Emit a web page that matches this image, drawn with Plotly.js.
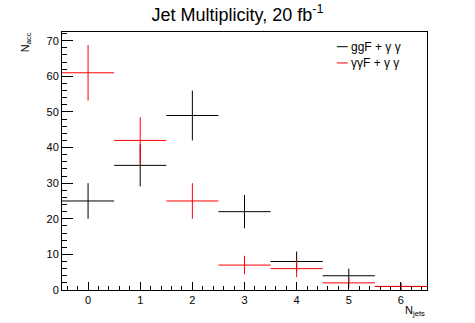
<!DOCTYPE html>
<html>
<head>
<meta charset="utf-8">
<script src="https://cdn.plot.ly/plotly-3.0.1.min.js"></script>
<style>html,body{margin:0;padding:0;background:#fff;}#chart{width:475px;height:323px;}</style>
</head>
<body>
<div id="chart"></div>
<script>
// Data
const nJets = [0, 1, 2, 3, 4, 5, 6];
const ggfCounts = [25, 35, 49, 22, 8, 4, 1];
const ggfErrors = [5, 5.9, 7, 4.7, 2.8, 2, 1];
const yyfCounts = [61, 42, 25, 7, 6, 2, 1];
const yyfErrors = [7.8, 6.5, 5, 2.6, 2.4, 1.4, 1];
const binHalfWidth = 0.5;
const seriesNames = ['ggF + \u03b3 \u03b3', '\u03b3\u03b3F + \u03b3 \u03b3'];
const seriesColors = ['#000000', '#ff0000'];

function histTrace(counts, errors, name, color) {
  return {
    type: 'scatter', mode: 'markers', x: nJets, y: counts, name: name,
    marker: {size: 2, color: 'rgba(0,0,0,0)'},
    error_x: {type: 'constant', value: binHalfWidth, width: 0, thickness: 1, color: color},
    error_y: {type: 'data', array: errors, visible: true, width: 0, thickness: 1, color: color},
    showlegend: false, hoverinfo: 'skip'
  };
}

const traces = [
  histTrace(ggfCounts, ggfErrors, seriesNames[0], seriesColors[0]),
  histTrace(yyfCounts, yyfErrors, seriesNames[1], seriesColors[1])
];

const font = {family: '"Liberation Sans", Arial, Helvetica, sans-serif', color: '#000'};

const layout = {
  width: 475, height: 323,
  margin: {l: 62, r: 48, t: 32, b: 33, pad: 0},
  paper_bgcolor: '#fff', plot_bgcolor: '#fff',
  font: Object.assign({size: 11}, font),
  title: {text: 'Jet Multiplicity, 20 fb<sup>-1</sup>', x: 0.5, xanchor: 'center', y: 0.955, yanchor: 'middle',
          font: Object.assign({size: 18}, font)},
  xaxis: {
    range: [-0.5, 6.5], tickmode: 'linear', tick0: 0, dtick: 1,
    ticks: 'inside', ticklen: 8, tickwidth: 1, tickcolor: '#000',
    minor: {tickmode: 'linear', tick0: 0, dtick: 0.2, ticks: 'inside', ticklen: 4, tickcolor: '#000', tickwidth: 1, showgrid: false},
    showline: true, linecolor: '#000', linewidth: 1, mirror: true,
    showgrid: false, zeroline: false, tickfont: Object.assign({size: 11}, font)
  },
  yaxis: {
    range: [0, 72.45], tickmode: 'linear', tick0: 0, dtick: 10,
    ticks: 'inside', ticklen: 11, tickwidth: 1, tickcolor: '#000',
    minor: {tickmode: 'linear', tick0: 0, dtick: 2, ticks: 'inside', ticklen: 5, tickcolor: '#000', tickwidth: 1, showgrid: false},
    showline: true, linecolor: '#000', linewidth: 1, mirror: true,
    showgrid: false, zeroline: false, tickfont: Object.assign({size: 11}, font)
  },
  annotations: [
    {text: 'N<sub>jets</sub>', xref: 'paper', yref: 'paper', x: 1, xanchor: 'right', y: -0.045, yanchor: 'top',
     showarrow: false, font: Object.assign({size: 11}, font)},
    {text: 'N<sub>acc</sub>', xref: 'paper', yref: 'paper', x: -0.1, xanchor: 'center', y: 1.005, yanchor: 'top',
     textangle: -90, showarrow: false, font: Object.assign({size: 11}, font)},
    {text: seriesNames[0], xref: 'paper', yref: 'paper', x: 0.787, xanchor: 'left', y: 0.943, yanchor: 'middle',
     showarrow: false, font: Object.assign({size: 12}, font)},
    {text: seriesNames[1], xref: 'paper', yref: 'paper', x: 0.787, xanchor: 'left', y: 0.88, yanchor: 'middle',
     showarrow: false, font: Object.assign({size: 12}, font)}
  ],
  shapes: [
    {type: 'line', xref: 'paper', yref: 'paper', x0: 0.753, x1: 0.783, y0: 0.943, y1: 0.943, line: {color: seriesColors[0], width: 1}},
    {type: 'line', xref: 'paper', yref: 'paper', x0: 0.753, x1: 0.783, y0: 0.88, y1: 0.88, line: {color: seriesColors[1], width: 1}}
  ]
};

Plotly.newPlot('chart', traces, layout, {staticPlot: true, displayModeBar: false});
</script>
</body>
</html>
